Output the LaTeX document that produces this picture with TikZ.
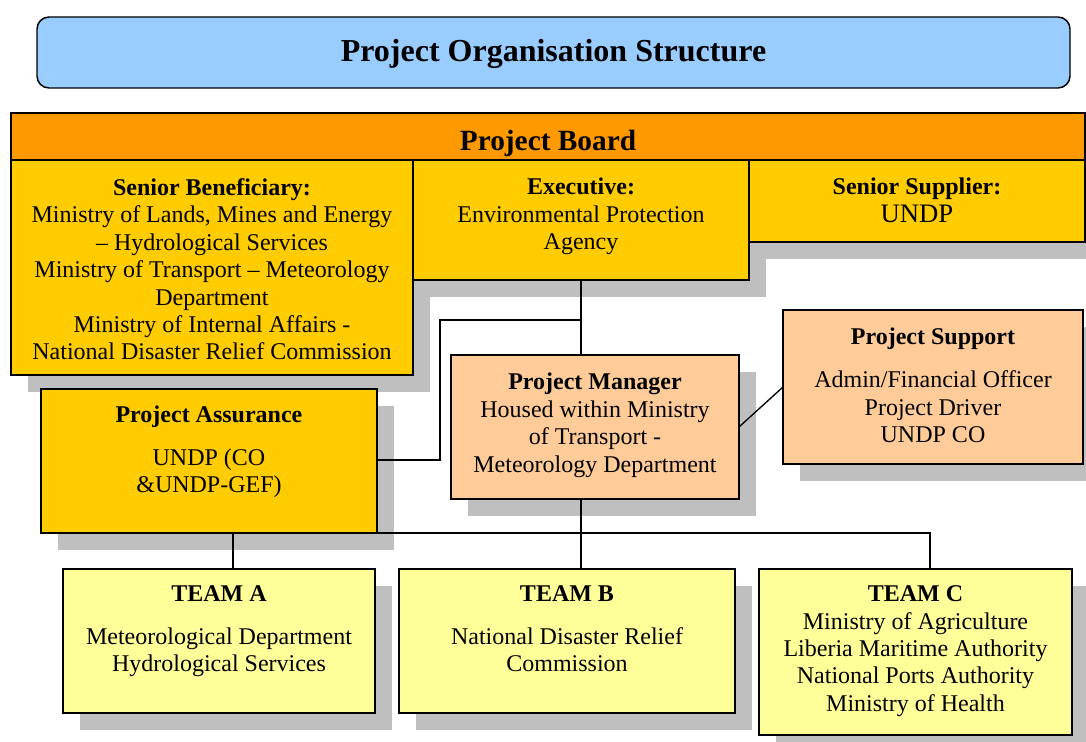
\documentclass[tikz,border=0pt]{standalone}
\usepackage{fontspec}
\setmainfont{Liberation Serif}
\usetikzlibrary{positioning,fit,shadows}

\definecolor{titleblue}{HTML}{99CCFF}
\definecolor{boardorange}{HTML}{FF9900}
\definecolor{boardyellow}{HTML}{FFCC00}
\definecolor{peach}{HTML}{FFCC99}
\definecolor{teamyellow}{HTML}{FFFF99}
\definecolor{shadowgrey}{HTML}{BFBFBF}

\tikzset{
  box/.style={draw, line width=1.1pt, inner sep=0pt, outer sep=0pt},
  shadowed/.style={drop shadow={shadow xshift=12.5pt, shadow yshift=-12.5pt, fill=shadowgrey, opacity=1}},
  txt/.style={align=center, inner sep=0pt, font=\fontsize{18}{20.6}\selectfont},
  link/.style={line width=1pt},
}

\begin{document}
\begin{tikzpicture}[x=0.75pt,y=0.75pt,yscale=-1,xscale=1]
\useasboundingbox (0,0) rectangle (1086,742);

% Title
\node[box, rounded corners=9pt, fill=titleblue, fit={(37,17) (1070,88)}] (titlebox) {};
\node[txt, font=\fontsize{24}{28}\selectfont\bfseries, yshift=-1pt] (titletxt) at (titlebox.center) {Project Organisation Structure};

% Project board
\node[box, fill=boardorange, fit={(11,113) (1085,160)}] (boardbox) {};
\node[txt, font=\fontsize{22}{26}\selectfont\bfseries, yshift=-5.5pt] (boardtxt) at (boardbox.center) {Project Board};

\node[box, shadowed, fill=boardyellow, fit={(11,160) (413,375)}] (senbenbox) {};
\node[txt, below=13.5pt of senbenbox.north] (senbentxt) {\textbf{Senior Beneficiary:}\\Ministry of Lands, Mines and Energy\\-- Hydrological Services\\Ministry of Transport -- Meteorology\\Department\\Ministry of Internal Affairs -\\National Disaster Relief Commission};

\node[box, shadowed, fill=boardyellow, fit={(413,160) (749,280)}] (execbox) {};
\node[txt, below=13.5pt of execbox.north] (exectxt) {\textbf{Executive:}\\Environmental Protection\\Agency};

\node[box, shadowed, fill=boardyellow, fit={(749,160) (1085,242)}] (sensupbox) {};
\node[txt, below=13.5pt of sensupbox.north] (sensuptxt) {\textbf{Senior Supplier:}\\{\fontsize{20}{22}\selectfont UNDP}};

% Assurance, manager, support
\node[box, shadowed, fill=boardyellow, fit={(41,389) (377,533)}] (assurbox) {};
\node[txt, below=12.3pt of assurbox.north] (assurtxt) {\textbf{Project Assurance}\\[11.5pt]UNDP (CO\\\&UNDP-GEF)};

\node[box, shadowed, fill=peach, fit={(451,355) (739,499)}] (pmbox) {};
\node[txt, below=13.5pt of pmbox.north] (pmtxt) {\textbf{Project Manager}\\Housed within Ministry\\of Transport -\\Meteorology Department};

\node[box, shadowed, fill=peach, fit={(783,310) (1083,464)}] (supbox) {};
\node[txt, below=13.5pt of supbox.north] (suptxt) {\textbf{Project Support}\\[11.5pt]Admin/Financial Officer\\Project Driver\\UNDP CO};

% Teams
\node[box, shadowed, fill=teamyellow, fit={(63,569) (375,713)}] (teamabox) {};
\node[txt, below=12.3pt of teamabox.north] (teamatxt) {\textbf{TEAM A}\\[11.5pt]Meteorological Department\\Hydrological Services};

\node[box, shadowed, fill=teamyellow, fit={(399,569) (735,713)}] (teambbox) {};
\node[txt, below=12.3pt of teambbox.north] (teambtxt) {\textbf{TEAM B}\\[11.5pt]National Disaster Relief\\Commission};

\node[box, shadowed, fill=teamyellow, fit={(759,569) (1072,735)}] (teamcbox) {};
\node[txt, below=12.3pt of teamcbox.north] (teamctxt) {\textbf{TEAM C}\\Ministry of Agriculture\\Liberia Maritime Authority\\National Ports Authority\\Ministry of Health};

% Lines
\coordinate (assurjoint) at (440,320);
\coordinate (teambusL) at (233,533);
\coordinate (teambusR) at (930,533);

\draw[link] (execbox.south) -- (execbox.south |- pmbox.north);
\draw[link] (assurbox.east |- 0,460) -| (assurjoint) -| (execbox.south);
\draw[link] (pmbox.east) -- (supbox.west);
\draw[link] (execbox.south |- pmbox.south) -- (execbox.south |- teambbox.north);
\draw[link] (teamabox.north -| teambusL) -- (teambusL) -- (teambusR) -- (teamcbox.north -| teambusR);

\end{tikzpicture}
\end{document}
